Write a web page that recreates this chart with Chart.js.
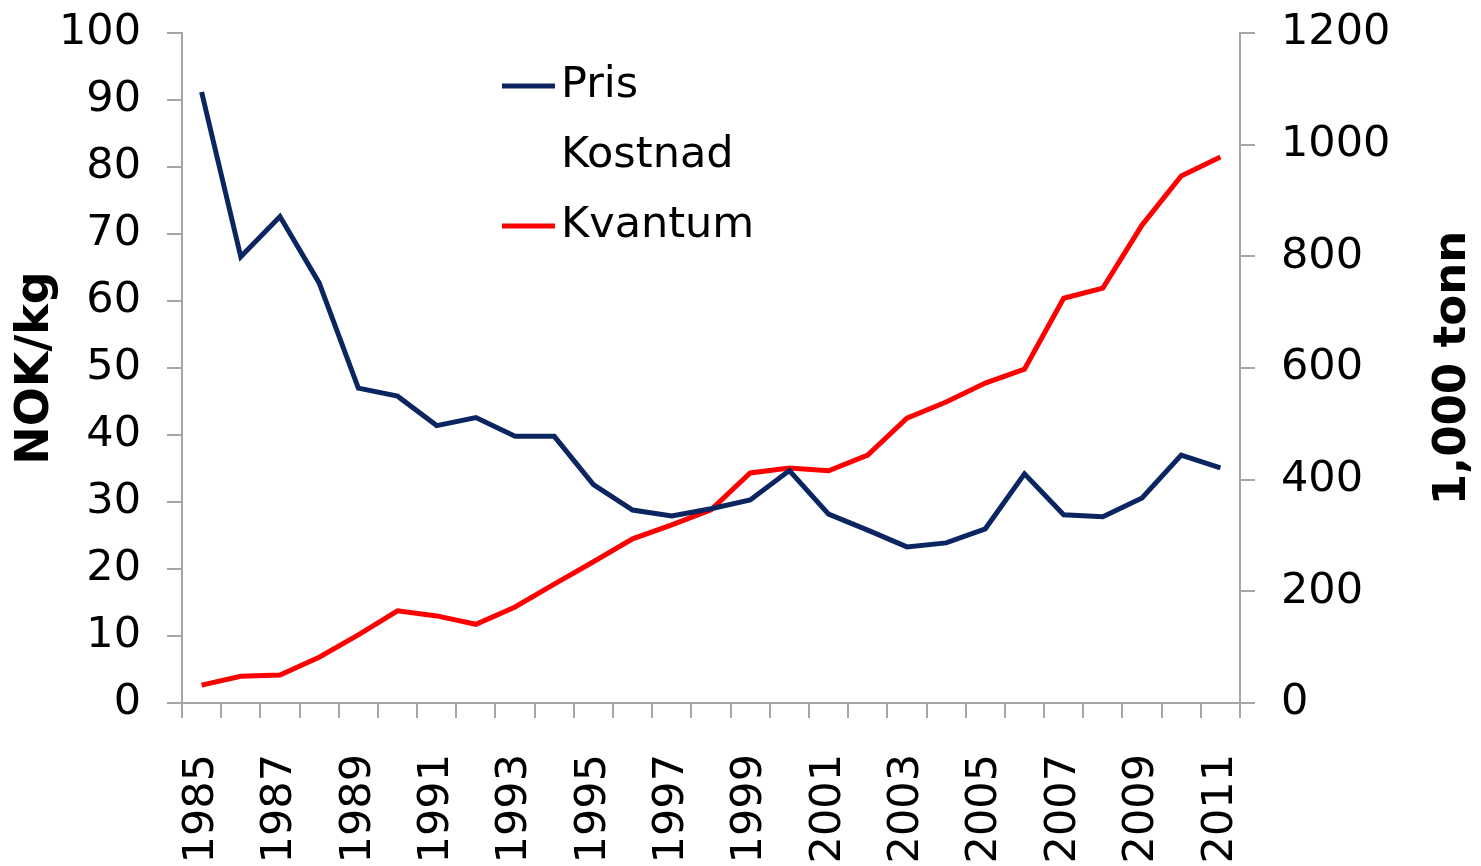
<!DOCTYPE html>
<html>
<head>
<meta charset="utf-8">
<script src="https://cdn.jsdelivr.net/npm/chart.js@4"></script>
<style>
  html, body { margin: 0; padding: 0; background: #fff; }
  #wrap { width: 1481px; height: 866px; }
</style>
</head>
<body>
<div id="wrap"><canvas id="chart"></canvas></div>
<script>
const years = ["1985","1986","1987","1988","1989","1990","1991","1992","1993","1994",
               "1995","1996","1997","1998","1999","2000","2001","2002","2003","2004",
               "2005","2006","2007","2008","2009","2010","2011"];

// NOK/kg
const pris = [91.2, 66.6, 72.6, 62.7, 47.0, 45.8, 41.4, 42.6, 39.8, 39.8,
              32.6, 28.8, 27.9, 29.0, 30.3, 34.7, 28.2, 25.8, 23.3, 23.9,
              26.0, 34.2, 28.1, 27.8, 30.6, 37.0, 35.1];
// no data shown for cost
const kostnad = [];
// 1,000 tonn
const kvantum = [32, 48, 50, 82, 122, 165, 156, 141, 172, 213,
                 253, 294, 319, 346, 412, 421, 416, 444, 510, 539,
                 573, 598, 725, 743, 856, 944, 978];

const leftTicks = [0, 10, 20, 30, 40, 50, 60, 70, 80, 90, 100];
const rightTicks = [0, 200, 400, 600, 800, 1000, 1200];

const FONT = "'DejaVu Sans', Verdana, sans-serif";
const axisGrey = "#a6a6a6";

// legend inside the plot plus the right axis title (reads bottom to top)
const extras = {
    id: "extras",
    afterDatasetsDraw(chart) {
        const ctx = chart.ctx;
        const area = chart.chartArea;
        const x0 = area.left + 320;
        let y = area.top + 53;
        ctx.save();
        ctx.font = "43px " + FONT;
        ctx.textBaseline = "middle";
        chart.data.datasets.forEach(ds => {
            ctx.strokeStyle = ds.borderColor;
            ctx.lineWidth = 5;
            ctx.beginPath();
            ctx.moveTo(x0, y);
            ctx.lineTo(x0 + 53, y);
            ctx.stroke();
            ctx.fillStyle = "#000";
            ctx.fillText(ds.label, x0 + 59, y);
            y += 70;
        });

        ctx.translate(1453, (area.top + area.bottom) / 2);
        ctx.rotate(-Math.PI / 2);
        ctx.font = "bold 45px " + FONT;
        ctx.textAlign = "center";
        ctx.fillText("1,000 tonn", 0, 0);
        ctx.restore();
    }
};

// keep tick label overflow from pushing the plot down
const fixY = width => s => {
    s.width = width;
    s.paddingTop = 0;
    s.paddingBottom = 0;
};

document.addEventListener("DOMContentLoaded", () => {

    const canvas = document.getElementById("chart");

    new Chart(canvas, {
        type: "line",
        data: {
            labels: years,
            datasets: [{
                label: "Pris",
                data: pris,
                yAxisID: "y",
                borderColor: "#0b2560",
                borderWidth: 5,
                pointRadius: 0,
                tension: 0
            }, {
                label: "Kostnad",
                data: kostnad,
                yAxisID: "y",
                borderColor: "#ffffff",
                borderWidth: 5,
                pointRadius: 0
            }, {
                label: "Kvantum",
                data: kvantum,
                yAxisID: "y1",
                borderColor: "#ff0000",
                borderWidth: 5,
                pointRadius: 0,
                tension: 0
            }]
        },
        options: {
            responsive: true,
            maintainAspectRatio: false,
            animation: false,
            layout: { padding: { top: 33, right: 0, left: 0, bottom: 0 } },
            plugins: {
                legend: { display: false },
                tooltip: { enabled: false }
            },
            scales: {
                x: {
                    offset: true,
                    grid: {
                        offset: true,
                        drawOnChartArea: false,
                        tickLength: 15,
                        color: axisGrey,
                        lineWidth: 2
                    },
                    border: { color: axisGrey, width: 2 },
                    ticks: {
                        autoSkip: false,
                        minRotation: 90,
                        maxRotation: 90,
                        padding: 36,
                        color: "#000",
                        font: { family: FONT, size: 43 },
                        callback: (v, i) => i % 2 === 0 ? years[i] : ""
                    },
                    afterFit: s => { s.height = 163; }
                },
                y: {
                    position: "left",
                    min: 0,
                    max: 100,
                    afterBuildTicks: s => { s.ticks = leftTicks.map(v => ({ value: v })); },
                    grid: {
                        drawOnChartArea: false,
                        tickLength: 15,
                        color: axisGrey,
                        lineWidth: 2
                    },
                    border: { color: axisGrey, width: 2 },
                    ticks: {
                        padding: 26,
                        color: "#000",
                        font: { family: FONT, size: 43 }
                    },
                    title: {
                        display: true,
                        text: "NOK/kg",
                        color: "#000",
                        font: { family: FONT, size: 46, weight: "bold" },
                        padding: { top: 8, bottom: 0 }
                    },
                    afterFit: fixY(182)
                },
                y1: {
                    position: "right",
                    min: 0,
                    max: 1200,
                    afterBuildTicks: s => { s.ticks = rightTicks.map(v => ({ value: v })); },
                    grid: {
                        drawOnChartArea: false,
                        tickLength: 15,
                        color: axisGrey,
                        lineWidth: 2
                    },
                    border: { color: axisGrey, width: 2 },
                    ticks: {
                        padding: 26,
                        color: "#000",
                        font: { family: FONT, size: 43 },
                        callback: v => String(v)
                    },
                    afterFit: fixY(241)
                }
            }
        },
        plugins: [extras]
    });

});
</script>
</body>
</html>
